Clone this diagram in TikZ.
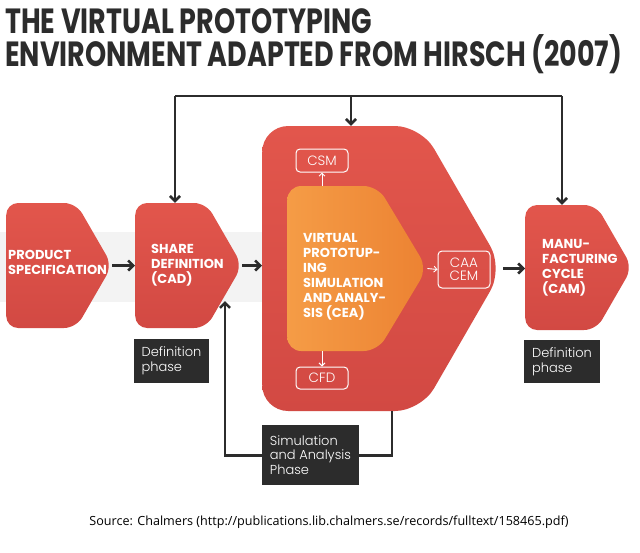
\documentclass[tikz,border=0pt]{standalone}
\usepackage{fontspec}
\setmainfont{Poppins}
\newfontfamily\titlefont{Poppins}[UprightFont=* Bold, FakeStretch=0.77]
\newfontfamily\boldfont{Poppins}[UprightFont=* Bold]
\newfontfamily\lightfont{Poppins}[UprightFont=* Light]
\newfontfamily\sourcefont{Open Sans}
\usetikzlibrary{positioning, arrows.meta, shapes.symbols}
\definecolor{vpredtop}{RGB}{226, 86, 76}
\definecolor{vpredbot}{RGB}{210, 73, 67}
\definecolor{vporangeL}{RGB}{245, 156, 70}
\definecolor{vporangeR}{RGB}{236, 130, 50}
\definecolor{vpdark}{RGB}{44, 44, 44}
\definecolor{vpband}{RGB}{243, 243, 243}

\begin{document}
\begin{tikzpicture}[x=1pt, y=-1pt,
  redbox/.style={signal, signal to=east, signal pointer angle=120, rounded corners=12pt,
    top color=vpredtop, bottom color=vpredbot, draw=none, inner sep=0pt, anchor=west},
  boxtext/.style={anchor=west, inner sep=0pt, align=left, text=white,
    font=\boldfont\fontsize{13}{15}\selectfont},
  tagbox/.style={draw=white, line width=1pt, rounded corners=4pt, text=white, align=center,
    inner sep=0pt, font=\lightfont\fontsize{13.5}{13}\selectfont},
  phase/.style={fill=vpdark, text=white, align=left, inner xsep=8pt, inner ysep=0pt,
    font=\lightfont\fontsize{13}{14.5}\selectfont},
  flow/.style={-{Straight Barb[length=5pt, width=10pt, line width=2.6pt]}, line width=2.6pt, vpdark},
  thinflow/.style={-{Straight Barb[length=3pt, width=6pt]}, line width=0.9pt, white}]
  \useasboundingbox[fill=white] (0,0) rectangle (640,552);
  % title and source
  \node[anchor=north west, inner sep=0pt, align=left, text=vpdark,
    font=\titlefont\fontsize{35}{33}\selectfont] (title) at (5,8)
    {THE VIRTUAL PROTOTYPING\\ENVIRONMENT ADAPTED FROM HIRSCH (2007)};
  \node[font=\sourcefont\fontsize{12.6}{14}\selectfont, text=black] (source) at (329,522)
    {Source: Chalmers (http://publications.lib.chalmers.se/records/fulltext/158465.pdf)};
  % background band
  \fill[vpband] (0,232) rectangle (265,302);
  % main boxes
  \node[redbox, minimum width=106pt, minimum height=125pt] (spec) at (6,265.5) {};
  \node[redbox, minimum width=107pt, minimum height=125pt] (share) at (135,265.5) {};
  \node[redbox, rounded corners=26pt, minimum width=241pt, minimum height=285pt] (sim) at (262,268.5) {};
  \node[signal, signal to=east, signal pointer angle=118, rounded corners=14pt, draw=none, inner sep=0pt,
    left color=vporangeL, right color=vporangeR, minimum width=140pt, minimum height=165pt,
    anchor=west] (cea) at (287,268.5) {};
  \node[redbox, minimum width=107pt, minimum height=125pt] (manu) at (525,267.5) {};
  % box texts
  \node[boxtext] (spectxt) at (8,262) {PRODUCT\\SPECIFICATION};
  \node[boxtext] (sharetxt) at (151,265) {SHARE\\DEFINITION\\(CAD)};
  \node[boxtext] (ceatxt) at (303,277) {VIRTUAL\\PROTOTUP-\\ING\\SIMULATION\\AND ANALY-\\SIS (CEA)};
  \node[boxtext] (manutxt) at (542,268) {MANU-\\FACTURING\\CYCLE\\(CAM)};
  % analysis tags
  \node[tagbox, minimum width=52pt, minimum height=23pt] (csm) at (322,160.5) {CSM};
  \node[tagbox, minimum width=52pt, minimum height=22pt] (cfd) at (322,378) {CFD};
  \node[tagbox, minimum width=52pt, minimum height=37pt] (caa) at (464,269.5) {CAA\\CEM};
  \draw[thinflow] (cea.north -| csm) -- (csm.south);
  \draw[thinflow] (cea.south -| cfd) -- (cfd.north);
  \draw[thinflow] (cea.east) -- (caa.west);
  % main flow
  \draw[flow] (spec.east) -- (share.west);
  \draw[flow] (share.east) -- (share.east -| sim.west);
  \draw[flow] (sim.east) -- (sim.east -| manu.west);
  % top loop
  \coordinate (railL) at (175,96);
  \coordinate (railM) at (351,96);
  \coordinate (railR) at (562,96);
  \draw[line width=2.6pt, vpdark] (railL) -- (railR);
  \draw[flow] (railL) -- (railL |- share.north);
  \draw[flow] (railM) -- (railM |- sim.north);
  \draw[flow] (railR) -- (railR |- manu.north);
  % bottom loop
  \coordinate (backstart) at (392,0);
  \coordinate (backend) at (225,301);
  \draw[flow] (backstart |- sim.south) -- ++(0,44) -| (backend);
  % phase labels
  \node[phase, minimum width=73pt, minimum height=44pt] (defA) at (171.5,361) {Definition\\phase};
  \node[phase, minimum width=74pt, minimum height=43pt] (defB) at (562,361.5) {Definition\\phase};
  \node[phase, minimum width=95pt, minimum height=60pt] (simphase) at (310.5,455) {Simulation\\and Analysis\\Phase};
\end{tikzpicture}
\end{document}
